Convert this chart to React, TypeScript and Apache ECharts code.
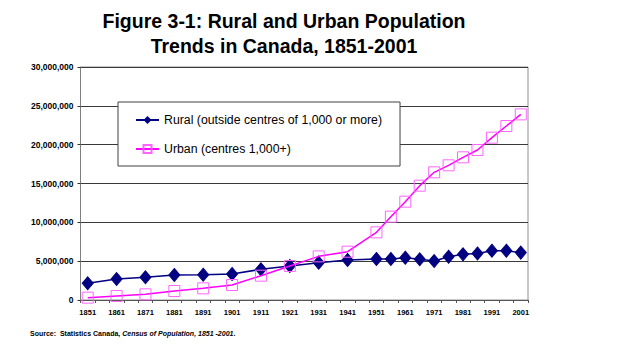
import React, { useEffect, useRef } from "react";
import * as echarts from "echarts";

const categories = [
  "1851", "1856", "1861", "1866", "1871", "1876", "1881", "1886", "1891", "1896",
  "1901", "1906", "1911", "1916", "1921", "1926", "1931", "1936", "1941", "1946",
  "1951", "1956", "1961", "1966", "1971", "1976", "1981", "1986", "1991", "1996", "2001",
];

const dataYears = [
  "1851", "1861", "1871", "1881", "1891", "1901", "1911", "1921", "1931", "1941",
  "1951", "1956", "1961", "1966", "1971", "1976", "1981", "1986", "1991", "1996", "2001",
];

const rural = [
  2150000, 2700000, 2920000, 3220000, 3260000, 3350000, 3950000, 4380000, 4810000, 5150000,
  5280000, 5280000, 5450000, 5240000, 5020000, 5580000, 5880000, 6000000, 6350000, 6350000, 6100000,
];

const urban = [
  300000, 520000, 730000, 1160000, 1500000, 1930000, 3130000, 4380000, 5620000, 6220000,
  8710000, 10730000, 12660000, 14720000, 16440000, 17340000, 18370000, 19310000, 20900000, 22400000, 23900000,
];

const titleText = "Figure 3-1: Rural and Urban Population\nTrends in Canada, 1851-2001";
const ruralName = "Rural (outside centres of 1,000 or more)";
const urbanName = "Urban (centres 1,000+)";

export default function App() {
  const ref = useRef<HTMLDivElement>(null);
  useEffect(() => {
    if (!ref.current) return;
    const chart = echarts.init(ref.current, null, { renderer: "svg" });
    chart.setOption({
      animation: false,
      backgroundColor: "#ffffff",
      textStyle: { fontFamily: "Liberation Sans, Arial, sans-serif" },
      graphic: [
        {
          type: "text",
          x: 284,
          y: 8,
          style: {
            text: titleText,
            fontSize: 19.5,
            fontWeight: "bold",
            fontFamily: "Liberation Sans, Arial, sans-serif",
            fill: "#000",
            align: "center",
            lineHeight: 25,
          },
        },
        {
          type: "text",
          x: 30,
          y: 330,
          style: {
            text: "{a|Source:  Statistics Canada, }{b|Census of Population, 1851 -2001}{a|.}",
            rich: {
              a: { fontSize: 7, fontWeight: "bold", fontFamily: "Liberation Sans, Arial, sans-serif", fill: "#000" },
              b: { fontSize: 7, fontWeight: "bold", fontStyle: "italic", fontFamily: "Liberation Sans, Arial, sans-serif", fill: "#000" },
            },
          },
        },
      ],
      grid: {
        left: 80.5,
        right: 112,
        top: 67,
        bottom: 49,
        show: true,
        borderColor: "#909090",
        borderWidth: 1,
        backgroundColor: "transparent",
      },
      legend: {
        orient: "vertical",
        left: 118,
        top: 102,
        padding: [12, 18, 11, 17],
        itemGap: 17,
        itemWidth: 23,
        itemHeight: 10,
        backgroundColor: "#ffffff",
        borderColor: "#404040",
        borderWidth: 1,
        textStyle: { fontSize: 12.3, color: "#000", fontFamily: "Liberation Sans, Arial, sans-serif" },
        data: [ruralName, urbanName],
      },
      xAxis: {
        type: "category",
        data: categories,
        boundaryGap: true,
        axisLine: { lineStyle: { color: "#555", width: 1 } },
        axisTick: { show: true, interval: 0, length: 3, lineStyle: { color: "#555" } },
        axisLabel: {
          interval: 1,
          fontSize: 7.5,
          fontWeight: "bold",
          color: "#000",
          margin: 8,
        },
        splitLine: { show: false },
      },
      yAxis: {
        type: "value",
        min: 0,
        max: 30000000,
        interval: 5000000,
        axisLine: { show: true, lineStyle: { color: "#808080" } },
        axisTick: { show: true, length: 3, lineStyle: { color: "#333" } },
        axisLabel: {
          fontSize: 8.5,
          fontWeight: "bold",
          color: "#000",
          margin: 7,
          formatter: (v: number) => v.toLocaleString("en-US"),
        },
        splitLine: { show: true, lineStyle: { color: "#3a3a3a", width: 1 } },
      },
      series: [
        {
          name: ruralName,
          type: "line",
          data: dataYears.map((y, i) => [y, rural[i]]),
          symbol: "diamond",
          symbolSize: [11, 13],
          showAllSymbol: true,
          lineStyle: { color: "#000080", width: 1.5 },
          itemStyle: { color: "#000080", borderColor: "#000080" },
          z: 3,
        },
        {
          name: urbanName,
          type: "line",
          data: dataYears.map((y, i) => [y, urban[i]]),
          symbol: "rect",
          symbolSize: 11,
          showAllSymbol: true,
          lineStyle: { color: "#ff00ff", width: 1.5 },
          itemStyle: { color: "rgba(255,255,255,0)", borderColor: "#ff66ff", borderWidth: 1 },
          z: 4,
        },
      ],
    });
    return () => chart.dispose();
  }, []);
  return <div ref={ref} style={{ width: 640, height: 349, margin: -8 }} />;
}
